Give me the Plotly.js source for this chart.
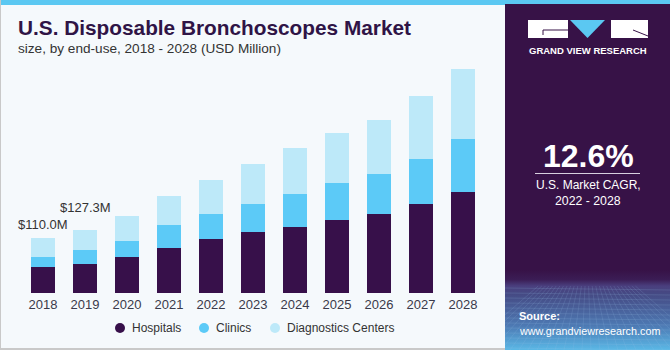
<!DOCTYPE html>
<html>
<head>
<meta charset="utf-8">
<script src="https://cdn.plot.ly/plotly-3.0.1.min.js"></script>
<style>
html,body{margin:0;padding:0;background:#f5f9fc;}
#chart{width:670px;height:350px;}
</style>
</head>
<body>
<div id="chart"></div>
<script>
// ---- data ----
var years = ["2018","2019","2020","2021","2022","2023","2024","2025","2026","2027","2028"];
var hospitals = [52.3, 59.0, 73.0, 90.0, 108.0, 122.7, 133.4, 147.5, 159.0, 179.7, 203.8];
var clinics = [20.1, 27.6, 31.6, 47.0, 50.3, 57.0, 66.4, 74.4, 80.5, 90.5, 106.6];
var diagnostics = [37.6, 40.7, 49.7, 58.4, 69.0, 80.5, 92.6, 101.2, 108.6, 126.8, 140.2];
var totalLabels = ["$110.0M", "$127.3M", "", "", "", "", "", "", "", "", ""];
var seriesNames = ["Hospitals", "Clinics", "Diagnostics Centers"];
var seriesColors = ["#37104a", "#5ccaf7", "#bde9f9"];

// ---- geometry helpers (pixel -> paper) ----
var W = 670, H = 350, ML = 22, MR = 186, MT = 60, MB = 57;
var PW = W - ML - MR, PH = H - MT - MB;
function X(px){ return (px - ML) / PW; }
function Y(py){ return (H - MB - py) / PH; }
var FONT = "Liberation Sans, Arial, sans-serif";

var seriesData = [hospitals, clinics, diagnostics];
var traces = [];
for (var s = 0; s < 3; s++) {
  traces.push({
    type: "bar", x: years, y: seriesData[s], name: seriesNames[s],
    marker: {color: seriesColors[s], line: {width: 0}},
    showlegend: false, hoverinfo: "x+y"
  });
}

var totals = years.map(function(_, i){ return hospitals[i] + clinics[i] + diagnostics[i]; });

var annotations = [];
var labelLift = [4, 13]; // styling: vertical lift of the two value labels
years.forEach(function(yr, i){
  if (totalLabels[i]) {
    annotations.push({x: i, y: totals[i], xref: "x", yref: "y", text: totalLabels[i],
      showarrow: false, xanchor: "center", yanchor: "bottom", yshift: labelLift[i] || 4,
      font: {family: FONT, size: 13, color: "#333"}});
  }
});
// titles
annotations.push({xref: "paper", yref: "paper", x: X(16), y: Y(28), xanchor: "left", yanchor: "middle",
  text: "<b>U.S. Disposable Bronchoscopes Market</b>", showarrow: false,
  font: {family: FONT, size: 20.8, color: "#2f1446"}});
annotations.push({xref: "paper", yref: "paper", x: X(16), y: Y(49), xanchor: "left", yanchor: "middle",
  text: "size, by end-use, 2018 - 2028 (USD Million)", showarrow: false,
  font: {family: FONT, size: 13.6, color: "#333"}});
// panel texts
annotations.push({xref: "paper", yref: "paper", x: X(588), y: Y(50), xanchor: "center", yanchor: "middle",
  text: "<b>GRAND VIEW RESEARCH</b>", showarrow: false,
  font: {family: FONT, size: 9.5, color: "#ffffff"}});
annotations.push({xref: "paper", yref: "paper", x: X(588), y: Y(156), xanchor: "center", yanchor: "middle",
  text: "<b>12.6%</b>", showarrow: false,
  font: {family: FONT, size: 32, color: "#ffffff"}});
annotations.push({xref: "paper", yref: "paper", x: X(588), y: Y(185), xanchor: "center", yanchor: "middle",
  text: "U.S. Market CAGR,", showarrow: false,
  font: {family: FONT, size: 12, color: "#ffffff"}});
annotations.push({xref: "paper", yref: "paper", x: X(588), y: Y(201), xanchor: "center", yanchor: "middle",
  text: "2022 - 2028", showarrow: false,
  font: {family: FONT, size: 12.3, color: "#ffffff"}});
annotations.push({xref: "paper", yref: "paper", x: X(517), y: Y(316), xanchor: "left", yanchor: "middle",
  text: "<b>Source:</b>", showarrow: false,
  font: {family: FONT, size: 11, color: "#ffffff"}});
annotations.push({xref: "paper", yref: "paper", x: X(517), y: Y(331), xanchor: "left", yanchor: "middle",
  text: "www.grandviewresearch.com", showarrow: false,
  font: {family: FONT, size: 10.8, color: "#ffffff"}});

function rect(x0, y0, x1, y1, color, layer){
  return {type: "rect", xref: "paper", yref: "paper", x0: X(x0), x1: X(x1), y0: Y(y0), y1: Y(y1),
    fillcolor: color, line: {width: 0}, layer: layer || "below"};
}
function line(x0, y0, x1, y1, color, w){
  return {type: "line", xref: "paper", yref: "paper", x0: X(x0), x1: X(x1), y0: Y(y0), y1: Y(y1),
    line: {color: color, width: w || 1}, layer: "above"};
}
var shapes = [
  rect(0, 0, 670, 5, "#5bc8f2"),
  rect(0, 0, 1, 350, "#c9c9c9"),
  rect(0, 348, 505, 350, "#c9c9c9"),
  rect(505, 4, 670, 350, "#371247"),
  // logo
  rect(528, 20, 568, 38, "#ffffff", "above"),
  rect(611, 20, 648, 38, "#ffffff", "above"),
  {type: "path", xref: "paper", yref: "paper", layer: "above",
   path: "M " + X(570) + "," + Y(20) + " L " + X(605) + "," + Y(20) + " L " + X(587.5) + "," + Y(38) + " Z",
   fillcolor: "#5bc8f2", line: {width: 0}},
  line(543, 30, 568, 30, "#371247", 1),
  line(543, 30, 543, 35, "#371247", 1),
  line(633, 30, 648, 36, "#371247", 1),
  // rule under CAGR
  line(535, 173.5, 640, 173.5, "#d8d0e0", 1.2)
];

// legend (circle swatches + names)
var legendSymbolX = [120, 204, 275];
seriesNames.forEach(function(nm, k){
  var cx = legendSymbolX[k], cy = 328, r = 5;
  shapes.push({type: "circle", xref: "paper", yref: "paper", x0: X(cx - r), x1: X(cx + r), y0: Y(cy + r), y1: Y(cy - r),
    fillcolor: seriesColors[k], line: {width: 0}, layer: "above"});
  annotations.push({xref: "paper", yref: "paper", x: X(cx + 10), y: Y(cy), xanchor: "left", yanchor: "middle",
    text: nm, showarrow: false, font: {family: FONT, size: 12, color: "#333"}});
});

// bottom gradient mesh of the panel
var svg = "<svg xmlns='http://www.w3.org/2000/svg' width='165' height='80' viewBox='0 0 165 80'>" +
  "<defs><linearGradient id='g' x1='0' y1='0' x2='0' y2='1'>" +
  "<stop offset='0' stop-color='#371247'/><stop offset='0.12' stop-color='#3b1d55'/>" +
  "<stop offset='0.2' stop-color='#4a3f7e'/><stop offset='0.3' stop-color='#454a84'/>" +
  "<stop offset='0.7' stop-color='#4d7ab4'/><stop offset='1' stop-color='#5ab8e6'/></linearGradient></defs>" +
  "<rect width='165' height='80' fill='url(#g)'/>";
var grid = "";
for (var gy = 18; gy < 80; gy += 5) grid += "<line x1='0' y1='" + gy + "' x2='165' y2='" + (gy + 2) + "' stroke='#9fc4ea' stroke-opacity='0.25' stroke-width='0.7'/>";
for (var gx = -40; gx < 205; gx += 9) grid += "<line x1='" + (82 + (gx - 82) * 0.4) + "' y1='16' x2='" + gx + "' y2='80' stroke='#9fc4ea' stroke-opacity='0.22' stroke-width='0.7'/>";
svg += grid + "</svg>";

var images = [{
  source: "data:image/svg+xml;charset=utf-8," + encodeURIComponent(svg),
  xref: "paper", yref: "paper", x: X(505), y: Y(270), sizex: X(670) - X(505), sizey: Y(270) - Y(350),
  xanchor: "left", yanchor: "top", sizing: "stretch", layer: "above"
}];

var layout = {
  width: W, height: H,
  margin: {l: ML, r: MR, t: MT, b: MB, pad: 0, autoexpand: false},
  paper_bgcolor: "#f5f9fc", plot_bgcolor: "#f5f9fc",
  barmode: "stack", bargap: 0.43,
  font: {family: FONT, color: "#3a3a4a"},
  xaxis: {type: "category", categoryorder: "array", categoryarray: years, range: [-0.5, 10.5], automargin: false,
    showgrid: false, showline: false, zeroline: false, ticks: "", ticklabelstandoff: 2,
    tickfont: {size: 13, color: "#3a3a4a"}, fixedrange: true},
  yaxis: {range: [0, 469.4], showgrid: false, showline: false, zeroline: false, showticklabels: false, fixedrange: true, automargin: false},
  showlegend: false,
  annotations: annotations, shapes: shapes, images: images
};

Plotly.newPlot("chart", traces, layout, {displayModeBar: false, staticPlot: true});
</script>
</body>
</html>
